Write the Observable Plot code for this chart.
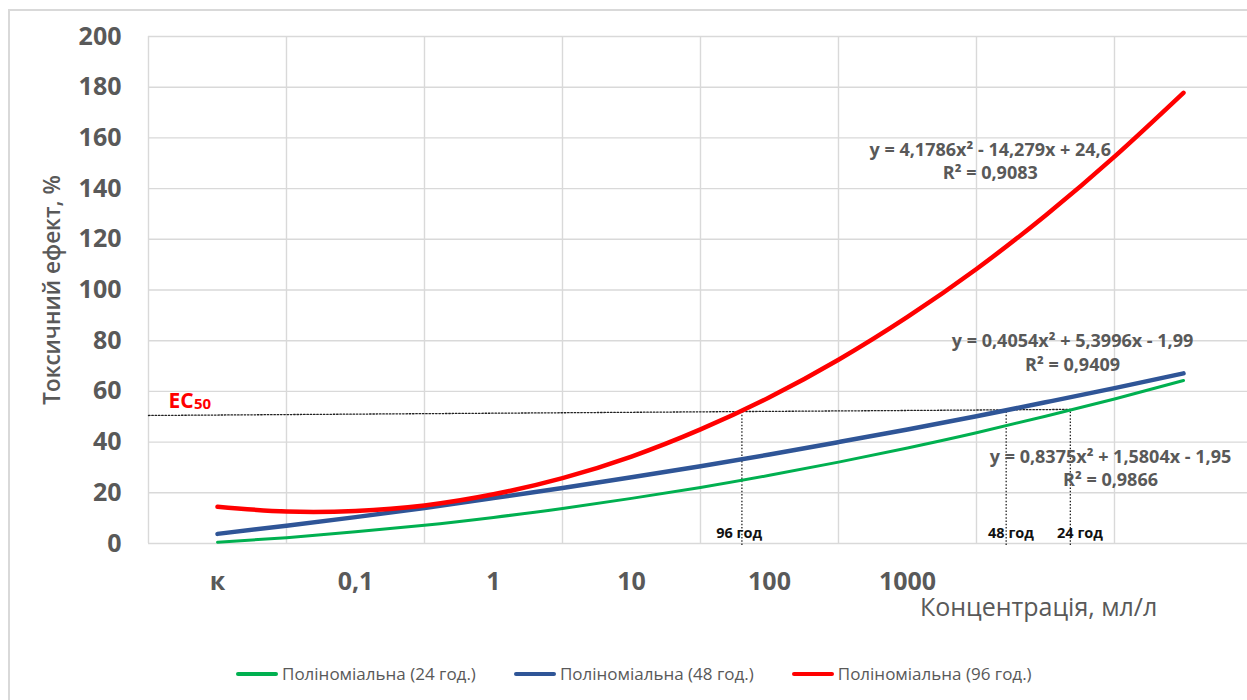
<!DOCTYPE html>
<html><head><meta charset="utf-8">
<script src="https://cdn.jsdelivr.net/npm/d3@7"></script>
<script src="https://cdn.jsdelivr.net/npm/@observablehq/plot@0.6"></script>
<style>
body{margin:0;background:#fff;font-family:"Open Sans",sans-serif;}
#wrap{position:relative;width:1247px;height:700px;overflow:hidden;background:#fff;}
#chart{position:absolute;left:0;top:0;}
#frame{position:absolute;left:8px;top:9px;width:1300px;height:800px;border-left:2px solid #d9d9d9;border-top:2px solid #d9d9d9;z-index:2;}
#legend{position:absolute;top:662px;left:236px;display:flex;align-items:center;font-size:17px;color:#595959;white-space:nowrap;}
.item{display:flex;align-items:center;margin-right:38px;}
.sw{width:42px;height:4px;margin-right:4px;border-radius:2px;}
</style></head><body>
<div id="wrap"><div id="chart"></div><div id="frame"></div><div id="legend"></div></div>
<script>
// categories on the x axis (positions 1..6); curves run to position 8
const categories = ["к", "0,1", "1", "10", "100", "1000"];
const catPos = [1, 2, 3, 4, 5, 6];
const gridX = [0.5, 1.5, 2.5, 3.5, 4.5, 5.5, 6.5, 7.5];
const yTicks = [0, 20, 40, 60, 80, 100, 120, 140, 160, 180, 200];

const xs   = [1, 1.5, 2, 2.5, 3, 3.5, 4, 4.5, 5, 5.5, 6, 6.5, 7, 7.5, 8];
const y24h = [0.5, 2.3, 4.6, 7.2, 10.3, 13.8, 17.8, 22.1, 26.9, 32.1, 37.7, 43.7, 50.2, 57.0, 64.3];
const y48h = [3.8, 7.0, 10.4, 14.0, 17.9, 21.9, 26.1, 30.5, 35.1, 40.0, 45.0, 50.2, 55.7, 61.3, 67.1];
const y96h = [14.5, 12.6, 12.8, 15.0, 19.4, 25.8, 34.3, 45.0, 57.7, 72.5, 89.4, 108.3, 129.4, 152.6, 177.8];

const seriesNames = ["Поліноміальна (24 год.)", "Поліноміальна (48 год.)", "Поліноміальна (96 год.)"];
const seriesColors = ["#00B050", "#2F5597", "#FF0000"];
const seriesWidths = [3, 4.5, 4.5];

// EC50 reference line and hour markers
const ecX = [0.5, 7.18];
const ecY = [50.5, 52.9];
const hourX = [4.80, 6.715, 7.18];
const hourTop = [52.0, 52.7, 52.9];
const hourLabels = ["96 год", "48 год", "24 год"];
const hourLabelX = [4.78, 6.75, 7.25];
const hourLabelY = 3.9;

// trendline equations
const eqLabels = [
  "y = 4,1786x² - 14,279x + 24,6\nR² = 0,9083",
  "y = 0,4054x² + 5,3996x - 1,99\nR² = 0,9409",
  "y = 0,8375x² + 1,5804x - 1,95\nR² = 0,9866"
];
const eqX = [6.60, 7.196, 7.471];
const eqY = [151.3, 75.7, 30.2];

const yTitle = "Токсичний ефект, %";
const xTitle = "Концентрація, мл/л";

const series = [y24h, y48h, y96h].map((ys, k) =>
  xs.map((x, i) => ({x, y: ys[i], k})));

const gray = "#595959";
const font = "Open Sans";

const plot = Plot.plot({
  width: 1247,
  height: 650,
  marginLeft: 148,
  marginRight: 0,
  marginTop: 36,
  marginBottom: 107,
  style: {fontFamily: font, background: "transparent", overflow: "visible"},
  x: {domain: [0.5, 8.5], range: [148, 1252], axis: null},
  y: {domain: [0, 200], range: [543, 36], axis: null},
  marks: [
    Plot.ruleY(yTicks, {stroke: "#d9d9d9", strokeWidth: 1.4}),
    Plot.ruleX(gridX, {y1: 0, y2: 200, stroke: "#d9d9d9", strokeWidth: 1.4}),
    Plot.axisY(yTicks, {tickSize: 0, tickPadding: 27, fontSize: 25, fontWeight: "bold", fill: gray, label: null, fontFamily: font}),
    Plot.axisX(catPos, {tickSize: 0, tickPadding: 29, tickFormat: d => categories[d - 1], fontSize: 25, fontWeight: "bold", fill: gray, label: null, fontFamily: font}),
    Plot.text([yTitle], {frameAnchor: "left", textAnchor: "middle", dx: -96, rotate: -90, fontSize: 22.5, fontWeight: 600, fill: gray, fontFamily: font}),
    Plot.text([xTitle], {x: [6.95], frameAnchor: "bottom", textAnchor: "middle", dy: 72, fontSize: 25, fill: gray, fontFamily: font}),
    // EC50 dotted line
    Plot.line(ecX.map((x, i) => ({x, y: ecY[i]})), {x: "x", y: "y", stroke: "#222", strokeWidth: 1.3, strokeDasharray: "1.5,1.8"}),
    Plot.ruleX(hourX.map((x, i) => ({x, top: hourTop[i]})), {x: "x", y1: -0.8, y2: "top", stroke: "#222", strokeWidth: 1.3, strokeDasharray: "1.5,1.8"}),
    // curves
    ...series.map((d, k) => Plot.line(d, {x: "x", y: "y", curve: "natural", stroke: seriesColors[k], strokeWidth: seriesWidths[k], strokeLinecap: "round"})),
    // labels
    Plot.text(hourLabels, {x: (d, i) => hourLabelX[i], y: hourLabelY, fontSize: 14.5, fontWeight: "bold", fill: "#111", fontFamily: font}),
    Plot.text(eqLabels, {x: (d, i) => eqX[i], y: (d, i) => eqY[i], fontSize: 18, fontWeight: "bold", fill: gray, lineHeight: 1.3, fontFamily: font}),
    Plot.text(["EC"], {x: [0.645], y: [56.2], textAnchor: "start", fontSize: 21, fontWeight: "bold", fill: "#FF0000", fontFamily: font}),
    Plot.text(["50"], {x: [0.83], y: [55.0], textAnchor: "start", fontSize: 15, fontWeight: "bold", fill: "#FF0000", fontFamily: font})
  ]
});
document.getElementById("chart").appendChild(plot);

const legend = document.getElementById("legend");
seriesNames.forEach((name, k) => {
  const item = document.createElement("div");
  item.className = "item";
  const sw = document.createElement("span");
  sw.className = "sw";
  sw.style.background = seriesColors[k];
  const t = document.createElement("span");
  t.textContent = name;
  item.appendChild(sw); item.appendChild(t);
  legend.appendChild(item);
});
</script>
</body></html>
